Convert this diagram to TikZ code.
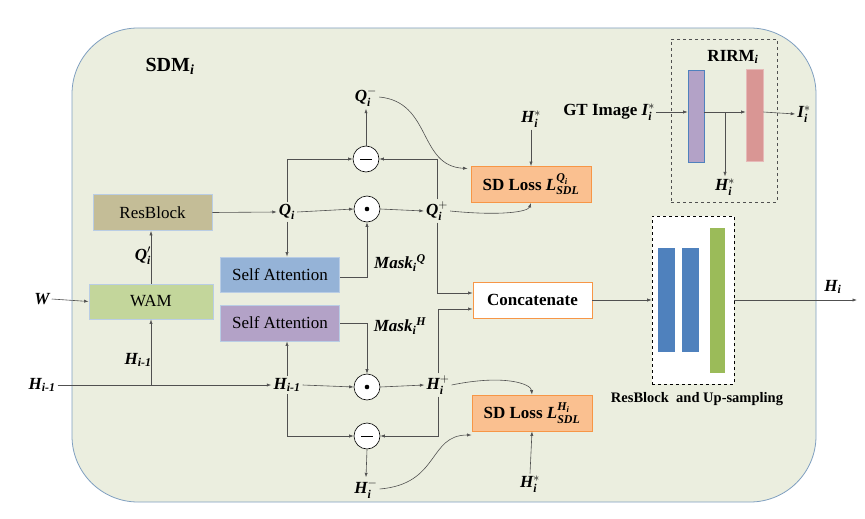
\documentclass[tikz,border=0pt]{standalone}
\usepackage{amsmath}
\usepackage{fontspec}
\setmainfont{Liberation Serif}
\usetikzlibrary{arrows.meta,calc}
\definecolor{bgc}{HTML}{EBEEDF}
\definecolor{bgb}{HTML}{7F9FC0}
\definecolor{resc}{HTML}{C4BD97}
\definecolor{lbb}{HTML}{B9CDE5}
\definecolor{wamc}{HTML}{C3D69B}
\definecolor{sabc}{HTML}{95B3D7}
\definecolor{sapc}{HTML}{B3A2C7}
\definecolor{lossf}{HTML}{FAC090}
\definecolor{lossb}{HTML}{F79646}
\definecolor{bbar}{HTML}{4F81BD}
\definecolor{gbar}{HTML}{9BBB59}
\definecolor{rbarc}{HTML}{D99694}
\definecolor{rbarb}{HTML}{E6B9B8}
\definecolor{linec}{HTML}{505050}
\newcommand{\bi}[1]{\text{\bfseries\itshape #1}}
\newcommand{\fs}{\fontsize{17}{20}\selectfont}
\begin{document}
\begin{tikzpicture}[x=1pt,y=-1pt,
  every node/.style={font=\fs, inner sep=1pt},
  arr/.style={draw=linec, line width=0.6pt, -{Latex[length=4.5pt,width=3.2pt]}},
  ln/.style={draw=linec, line width=0.6pt},
  boxs/.style={draw=lbb, line width=0.8pt, minimum width=119pt, minimum height=36pt, inner sep=0pt},
  lossbox/.style={draw=lossb, fill=lossf, line width=0.8pt, minimum width=120pt, minimum height=36pt, inner sep=0pt, font=\fs\bfseries},
  opc/.style={circle, draw=black, fill=white, line width=0.6pt, minimum size=26pt, inner sep=0pt},
  lbl/.style={inner sep=2pt}
]
\useasboundingbox (0,0) rectangle (865,519);
\draw[rounded corners=66pt, fill=bgc, draw=bgb, line width=0.8pt] (72,28) rectangle (816,502);

\node[font=\fontsize{20}{24}\selectfont\bfseries] (sdm) at (170,66) {SDM$_{\bi{i}}$};

% left blocks
\node[boxs, fill=resc] (res) at (152.5,212.5) {ResBlock};
\node[boxs, fill=wamc, minimum width=124pt, minimum height=35pt] (wam) at (151,301.5) {WAM};
\node[lbl] (w) at (42,299) {$\bi{W}$};
\node[lbl] (hl) at (42,385) {$\bi{H}_{\bi{i-1}}$};
\node[lbl] (hb) at (138,360) {$\bi{H}_{\bi{i-1}}$};
\node[lbl] (qpr) at (143,256) {$\bi{Q}'_{\bi{i}}$};

% self attention
\node[boxs, fill=sabc, minimum height=35pt] (sa1) at (280,274.5) {Self Attention};
\node[boxs, fill=sapc, minimum height=36pt] (sa2) at (280,323) {Self Attention};

% Q branch
\node[lbl] (qi) at (287,212) {$\bi{Q}_{\bi{i}}$};
\node[opc] (dot1) at (367,209) {};
\node[opc] (m1) at (366,159) {};
\node[lbl] (qp) at (437,211) {$\bi{Q}_{\bi{i}}^{+}$};
\node[lbl] (qm) at (366,97) {$\bi{Q}_{\bi{i}}^{-}$};
\node[lbl] (mq) at (400,263) {$\bi{Mask}_{\bi{i}}{}^{\bi{Q}}$};

% H branch
\node[lbl] (hm) at (287,385) {$\bi{H}_{\bi{i-1}}$};
\node[opc] (dot2) at (367,387) {};
\node[opc] (m2) at (367,436) {};
\node[lbl] (hp) at (438,385) {$\bi{H}_{\bi{i}}^{+}$};
\node[lbl] (hmn) at (366,489) {$\bi{H}_{\bi{i}}^{-}$};
\node[lbl] (mh) at (400,326) {$\bi{Mask}_{\bi{i}}{}^{\bi{H}}$};

\fill (dot1.center) circle (2.3pt);
\fill (dot2.center) circle (2.3pt);
\draw[line width=0.8pt] ($(m1.center)+(-6,0)$) -- ($(m1.center)+(6,0)$);
\draw[line width=0.8pt] ($(m2.center)+(-6,0)$) -- ($(m2.center)+(6,0)$);

% losses
\node[lossbox] (loss1) at (531,184.5) {SD Loss $\bi{L}_{\bi{SDL}}^{\bi{Q}_{\bi{i}}}$};
\node[lossbox] (loss2) at (532,413) {SD Loss $\bi{L}_{\bi{SDL}}^{\bi{H}_{\bi{i}}}$};
\node[lbl] (hs1) at (531,119) {$\bi{H}_{\bi{i}}^{*}$};
\node[lbl] (hs2) at (530,484) {$\bi{H}_{\bi{i}}^{*}$};

% concat
\node[draw=lossb, fill=white, line width=0.8pt, minimum width=119pt, minimum height=36pt, inner sep=0pt, font=\fs\bfseries] (cat) at (532.5,300) {Concatenate};

% resblock & upsampling
\node[draw=black, dashed, fill=white, line width=0.6pt, minimum width=82pt, minimum height=168pt, inner sep=0pt] (dash) at (693,300) {};
\fill[bbar] (658,248) rectangle (675,352);
\fill[bbar] (682,248) rectangle (699,352);
\fill[gbar] (710,228) rectangle (725,373);
\node[font=\fontsize{14.5}{17}\selectfont\bfseries] (rul) at (697,399) {ResBlock\ \ and Up-sampling};
\coordinate (hend) at (857,300);
\node[lbl] (hi) at (833,287) {$\bi{H}_{\bi{i}}$};

% RIRM
\node[draw=linec, dashed, line width=0.6pt, minimum width=106pt, minimum height=163pt, inner sep=0pt] (rirm) at (724,120.5) {};
\node[font=\fs\bfseries] (rirml) at (733,57) {RIRM$_{\bi{i}}$};
\node[draw=bbar, fill=sapc, line width=0.6pt, minimum width=16pt, minimum height=92pt, inner sep=0pt] (pbar) at (696,116) {};
\node[draw=rbarb, fill=rbarc, line width=0.6pt, minimum width=17pt, minimum height=92pt, inner sep=0pt] (rbar) at (754.5,115) {};
\node[font=\fs\bfseries] (gt) at (609,112) {GT Image $\bi{I}_{\bi{i}}^{*}$};
\node[lbl] (hs3) at (725,187) {$\bi{H}_{\bi{i}}^{*}$};
\node[lbl] (is) at (804,114) {$\bi{I}_{\bi{i}}^{*}$};
\coordinate (rbr) at (725,112);

% ---- connectors ----
\draw[arr] (res.east) -- (qi.west);
\draw[arr] (qi.east) -- (dot1.west);
\draw[arr] (dot1.east) -- (qp.west);
\draw[arr] (qi.north) |- (m1.west);
\draw[arr] (qp.north) |- (m1.east);
\draw[arr] (m1.north) -- (qm.south);
\draw[arr] (qi.south) -- (qi.south |- sa1.north);
\draw[arr] ([yshift=-3pt]sa1.east) -| (dot1.south);

\draw[arr] (w.east) -- (wam.west);
\draw[arr] (wam.north) -- (wam.north |- res.south);
\draw[arr] (hl.east) -- (hm.west);
\draw[arr] (wam.south |- hl.east) -- (wam.south);

\draw[arr] (hm.north) -- (hm.north |- sa2.south);
\draw[arr] (hm.east) -- (dot2.west);
\draw[arr] (dot2.east) -- (hp.west);
\draw[arr] (sa2.east) -| (dot2.north);
\draw[arr] (hm.south) |- (m2.west);
\draw[arr] (hp.south) |- (m2.east);
\draw[arr] (m2.south) -- (hmn.north);

\draw[arr] (qp.south) |- ([yshift=7pt]cat.west);
\draw[arr] (hp.north) |- ([yshift=-9pt]cat.west);
\draw[arr] (cat.east) -- (dash.west);
\draw[arr] (dash.east) -- (hend);

\draw[arr] (hs1.south) -- (loss1.north);
\draw[arr] (hs2.north) -- (loss2.south);
\draw[arr] (qm.east) .. controls (432,102) and (418,166) .. ([xshift=-3pt,yshift=16pt]loss1.west);
\draw[arr] (qp.east) .. controls (500,216) and (528,212) .. (loss1.south);
\draw[arr] (hp.east) .. controls (505,374) and (531,384) .. (loss2.north);
\draw[arr] (hmn.east) .. controls (440,484) and (428,435) .. ([yshift=-22pt]loss2.west);

\draw[arr] (gt.east) -- (gt.east -| pbar.west);
\draw[arr] (gt.east -| pbar.east) -- (gt.east -| rbar.west);
\draw[arr] (rbr) -- (hs3.north);
\draw[arr] (gt.east -| rbar.east) -- (is.west);
\end{tikzpicture}
\end{document}
